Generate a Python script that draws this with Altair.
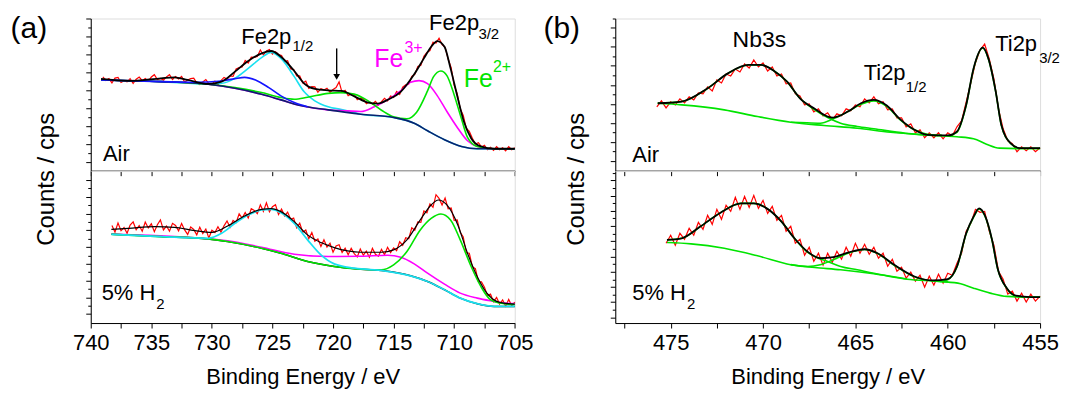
import json
import altair as alt
import pandas as pd

FONT = "Liberation Sans"
RED = "#ff0000"
BLACK = "#000000"
NAVY = "#0b1f6e"
BLUE = "#1414ff"
CYAN = "#19e0f0"
MAGENTA = "#ff00ff"
GREEN = "#00e400"

# ---------------- panel (a), Air ----------------
a1_black_E = [739.15, 736.9, 734.2, 733.1, 732.0, 730.3, 729.2, 728.1, 727.0, 725.9, 725.1, 724.3, 723.2, 722.4, 721.5, 720.4, 719.3, 718.2, 717.1, 716.3, 715.5, 714.4, 713.3, 712.5, 711.9, 711.4, 710.8, 710.3, 709.7, 709.2, 708.6, 707.8, 706.7, 705.0]
a1_black_I = [92, 90, 92.6, 93.6, 91, 87, 89.3, 99.3, 110, 117.6, 120, 114.3, 100, 87.6, 82, 80.6, 80, 74.3, 68.3, 67.3, 71, 79.3, 96.6, 112.6, 124.3, 130, 124.3, 102.6, 72.6, 49.3, 32.6, 24.3, 22, 22]
a1_bg_E = [739.15, 734.2, 730.3, 728.1, 725.9, 724.3, 722.7, 720.4, 717.7, 715.0, 713.3, 712.2, 710.8, 709.4, 708.1, 705.0]
a1_bg_I = [91, 89.3, 86.6, 82.6, 76.6, 71, 65.3, 61, 56.6, 53.3, 47.6, 40, 31, 24.3, 22, 22]
a1_fe2_E = [739.15, 734.2, 730.3, 728.1, 725.9, 724.3, 723.2, 722.1, 720.4, 719.3, 718.2, 717.1, 716.0, 715.0, 713.9, 713.1, 712.2, 711.7, 711.1, 710.6, 710.0, 709.4, 708.9, 708.1, 706.7, 705.0]
a1_fe2_I = [91, 89.3, 86.6, 83.3, 78.3, 73.3, 71.6, 73.6, 77.5, 78.3, 76.5, 70, 60.6, 54, 52, 58.6, 80, 94.3, 100, 95.3, 76, 52, 33.3, 24.3, 22, 22]
a1_fe3_E = [739.15, 734.2, 730.3, 728.1, 725.9, 724.3, 722.7, 720.4, 718.8, 717.7, 716.6, 715.5, 714.4, 713.6, 712.9, 712.2, 711.4, 710.6, 709.7, 708.9, 708.1, 706.7, 705.0]
a1_fe3_I = [91, 89.3, 86.6, 82.6, 76.6, 71, 65.3, 61, 60, 59.3, 64, 71, 80.3, 88.6, 90.3, 87.3, 75.3, 59.3, 42.6, 30, 24.3, 22, 22]
a1_cy_E = [739.15, 734.2, 730.3, 729.2, 728.1, 727.0, 725.9, 725.1, 724.3, 723.2, 722.4, 721.5, 720.4, 719.3, 717.7, 715.0, 713.3, 712.2, 710.8, 709.4, 708.1, 705.0]
a1_cy_I = [91, 89.3, 87, 87.6, 92.6, 102.6, 113.3, 118.6, 112.6, 94.3, 79.3, 70, 64, 61.3, 56.6, 53.3, 47.6, 40, 31, 24.3, 22, 22]
a1_bl_E = [739.15, 734.2, 731.4, 729.2, 728.1, 727.3, 726.4, 725.3, 724.3, 723.2, 722.1]
a1_bl_I = [91, 89.3, 88.6, 90, 92.3, 93.6, 91, 83.3, 75, 68.3, 64]
a1_red = [
    (739.0, 94), (738.75, 90.5), (738.5, 92.3), (738.25, 88), (738.0, 92.8), (737.75, 93.6), (737.5, 88.4), (737.25, 90.3),
    (737.0, 89.1), (736.75, 92.3), (736.5, 87.4), (736.25, 91.7), (736.0, 93.9), (735.75, 90.2), (735.5, 92.4), (735.25, 89.7),
    (735.0, 93.9), (734.75, 96.2), (734.5, 91.4), (734.25, 92.6), (734.0, 90.8), (733.75, 94.1), (733.5, 96.3), (733.25, 91.4),
    (733.0, 94.5), (732.75, 92), (732.5, 94.5), (732.25, 88.8), (732.0, 91), (731.75, 92.4), (731.5, 92.8), (731.25, 88.2),
    (731.0, 86.5), (730.75, 89), (730.5, 91.4), (730.25, 87.4), (730.0, 86.4), (729.75, 89.8), (729.5, 86.2), (729.25, 90.4),
    (729.0, 93.5), (728.75, 91.8), (728.5, 95), (728.25, 94.5), (728.0, 102), (727.75, 103.5), (727.5, 104), (727.25, 110.5),
    (727.0, 108), (726.75, 113.9), (726.5, 113.7), (726.25, 114.4), (726.0, 121), (725.75, 116), (725.5, 120), (725.25, 121.4),
    (725.0, 116.8), (724.75, 119.2), (724.5, 116.5), (724.25, 115.5), (724.0, 109.5), (723.75, 110.3), (723.5, 102), (723.25, 101.5),
    (723.0, 95), (722.75, 95), (722.5, 88), (722.25, 89.8), (722.0, 82.5), (721.75, 84.3), (721.5, 84), (721.25, 78.6),
    (721.0, 82.2), (720.75, 81), (720.5, 82.7), (720.25, 78.6), (720.0, 81.4), (719.75, 83.3), (719.5, 89), (719.25, 78.3),
    (719.0, 80.5), (718.75, 75.3), (718.5, 77), (718.25, 76.6), (718.0, 71.2), (717.75, 72.8), (717.5, 72.3), (717.25, 67.3),
    (717.0, 69.2), (716.75, 66.8), (716.5, 69.4), (716.25, 65.8), (716.0, 69.2), (715.75, 72.6), (715.5, 70), (715.25, 74.8),
    (715.0, 73.5), (714.75, 79.5), (714.5, 76.5), (714.25, 83.8), (714.0, 86), (713.75, 86.8), (713.5, 94.5), (713.25, 96.6),
    (713.0, 104.6), (712.75, 105.6), (712.5, 114.6), (712.25, 118.6), (712.0, 120.5), (711.75, 128.8), (711.5, 128), (711.25, 132.8),
    (711.0, 126.5), (710.75, 123.8), (710.5, 112), (710.25, 103.3), (710.0, 85.6), (709.75, 77.3), (709.5, 62), (709.25, 55.3),
    (709.0, 42.5), (708.75, 39.5), (708.5, 32.5), (708.25, 26.8), (708.0, 28), (707.75, 23.8), (707.5, 25.5), (707.25, 21),
    (707.0, 23.5), (706.75, 20.3), (706.5, 24), (706.25, 21), (706.0, 23), (705.75, 20), (705.5, 24), (705.25, 21), (705.0, 23)]

# ---------------- panel (a), 5% H2 ----------------
a2_black_E = [738.3, 736.9, 734.7, 733.1, 731.4, 730.0, 728.7, 727.3, 725.9, 725.1, 724.3, 723.2, 722.1, 721.0, 719.9, 718.8, 717.7, 716.0, 715.0, 713.9, 712.8, 711.9, 711.3, 710.6, 709.7, 708.9, 708.1, 707.3, 706.5, 705.9, 705.0]
a2_black_I = [94, 95, 96.7, 96, 92.7, 91, 97.4, 107.4, 114, 114.7, 111.7, 101.7, 88.4, 80.7, 75.7, 72.4, 71, 71, 73.4, 83.4, 103.4, 118.4, 123.4, 118.4, 98.4, 70, 46.7, 30, 21.7, 20, 19]
a2_bg_E = [738.3, 734.2, 730.3, 728.7, 725.9, 724.3, 722.1, 719.9, 717.7, 715.8, 713.6, 712.2, 710.8, 709.5, 708.1, 706.7, 705.0]
a2_bg_I = [89, 86.7, 84.4, 81.7, 75, 70, 61.7, 56.7, 54, 52.4, 47.4, 41.7, 33.4, 25, 19.4, 16.7, 16.7]
a2_cy_E = [738.3, 734.2, 730.3, 729.2, 728.1, 727.0, 725.9, 725.1, 724.3, 723.2, 722.1, 721.0, 719.9, 718.2, 715.8, 713.6, 712.2, 710.8, 709.5, 708.1, 706.7, 705.0]
a2_cy_I = [89, 86.7, 85, 90, 100, 108.4, 113.4, 114, 110.7, 100, 83.4, 68.4, 59.4, 55, 52.4, 47.4, 41.7, 33.4, 25, 19.4, 16.7, 16.7]
a2_fe3_E = [738.3, 731.4, 728.7, 725.9, 723.2, 720.4, 717.7, 715.5, 714.4, 713.3, 712.2, 710.8, 709.5, 708.1, 706.7, 705.9, 705.0]
a2_fe3_I = [89, 85.5, 82.5, 76, 69, 66.7, 67, 68, 66, 59.4, 50, 39, 30, 25, 21.7, 20, 19.5]
a2_fe2_E = [738.3, 734.2, 730.3, 728.7, 725.9, 724.3, 722.1, 719.9, 717.7, 716.0, 715.0, 713.9, 712.8, 711.9, 711.1, 710.3, 709.5, 708.6, 707.8, 707.0, 705.9, 705.0]
a2_fe2_I = [89, 86.7, 84.4, 81.7, 75, 70, 61.7, 56.7, 54, 53.4, 58.4, 71.7, 93.4, 105, 109.4, 103.4, 83.4, 56.7, 36.7, 23.4, 19.4, 18.5]
a2_red = [
    (738.25, 97.7), (738.0, 91.2), (737.75, 100.4), (737.5, 92.6), (737.25, 95.8), (737.0, 90), (736.75, 98.2), (736.5, 101.4),
    (736.25, 93.6), (736.0, 97.8), (735.75, 92), (735.5, 101.2), (735.25, 95.4), (735.0, 99.5), (734.75, 91.6), (734.5, 98.6),
    (734.25, 103.5), (734.0, 93.4), (733.75, 97.3), (733.5, 92.2), (733.25, 100), (733.0, 97.8), (732.75, 92.4), (732.5, 99.9),
    (732.25, 93.4), (732.0, 88.9), (731.75, 96.4), (731.5, 93.9), (731.25, 88.5), (731.0, 96), (730.75, 89.7), (730.5, 94.3),
    (730.25, 85.2), (730.0, 93), (729.75, 90.8), (729.5, 96.5), (729.25, 91), (729.0, 97.5), (728.75, 102.3), (728.5, 96),
    (728.25, 102.9), (728.0, 100.7), (727.75, 109.5), (727.5, 105.3), (727.25, 110.8), (727.0, 105.3), (726.75, 114.6), (726.5, 112.8),
    (726.25, 109.7), (726.0, 118.6), (725.75, 112), (725.5, 120.5), (725.25, 111.6), (725.0, 116.6), (724.75, 118.7), (724.5, 108.8),
    (724.25, 114.2), (724.0, 107.5), (723.75, 111.3), (723.5, 104), (723.25, 105.3), (723.0, 95.5), (722.75, 100.3), (722.5, 91),
    (722.25, 93.3), (722.0, 84.5), (721.75, 90.8), (721.5, 82), (721.25, 84.4), (721.0, 76.7), (720.75, 83.5), (720.5, 76.2),
    (720.25, 80.1), (720.0, 71), (719.75, 77.3), (719.5, 78.5), (719.25, 70.8), (719.0, 75), (718.75, 68.5), (718.5, 75),
    (718.25, 69.7), (718.0, 66.3), (717.75, 74.2), (717.5, 68), (717.25, 72), (717.0, 66), (716.75, 75), (716.5, 69),
    (716.25, 67), (716.0, 74), (715.75, 68.5), (715.5, 76), (715.25, 70.7), (715.0, 75.4), (714.75, 72.5), (714.5, 81.5),
    (714.25, 78), (714.0, 85.5), (713.75, 84.5), (713.5, 95.5), (713.25, 93), (713.0, 101.5), (712.75, 101), (712.5, 112.5),
    (712.25, 110.5), (712.0, 119.5), (711.75, 116.1), (711.5, 128.7), (711.25, 125), (711.0, 118.3), (710.75, 125.4), (710.5, 114.5),
    (710.25, 115.3), (710.0, 103), (709.75, 103.5), (709.5, 91), (709.25, 86.3), (709.0, 70.5), (708.75, 70), (708.5, 56.5),
    (708.25, 54.5), (708.0, 41.5), (707.75, 41.3), (707.5, 36), (707.25, 27.5), (707.0, 29), (706.75, 21.4), (706.5, 25.7),
    (706.25, 19), (706.0, 23.2), (705.75, 16.9), (705.5, 23.6), (705.25, 17.3), (705.0, 21)]

# ---------------- panel (b), Air ----------------
b1_black_E = [475.7, 474.4, 473.0, 471.9, 470.8, 470.1, 469.4, 468.7, 468.0, 467.2, 466.5, 466.2, 465.4, 464.7, 464.0, 463.3, 462.6, 461.8, 461.1, 460.0, 459.5, 459.0, 458.6, 458.1, 457.8, 457.4, 457.1, 456.6, 456.1, 455.5, 455.0]
b1_black_I = [67.6, 69.3, 82.6, 97.6, 106, 106, 100, 89.3, 72.6, 62, 54.3, 53.3, 59.3, 67.6, 71, 65.3, 52, 41, 36, 35.3, 39.3, 66, 102.6, 123.3, 112.6, 79.3, 46, 27.6, 22.6, 22.6, 22.6]
b1_bg_E = [475.7, 474.4, 472.1, 470.3, 468.5, 466.7, 464.9, 463.1, 461.3, 459.5, 458.6, 457.9, 457.2, 455.5, 455.0]
b1_bg_I = [67.6, 66, 61, 54.3, 48.6, 45.3, 42.6, 38.6, 36, 34, 32, 26.6, 22.6, 22, 22]
b1_nb_E = [475.7, 474.4, 473.0, 471.9, 470.8, 470.1, 469.4, 468.7, 468.0, 467.2, 466.5, 465.8, 464.9, 464.0, 462.3, 460.5]
b1_nb_I = [67.6, 69.3, 82.6, 97.6, 106, 106, 100, 89.3, 72.6, 61, 53.3, 47.6, 44.3, 42, 37.6, 35]
b1_ti1_E = [468.5, 468.0, 466.9, 466.2, 465.4, 464.7, 464.0, 463.3, 462.6, 461.8, 461.1, 460.3]
b1_ti1_I = [48.6, 48.3, 47.6, 52, 59.3, 66.5, 70, 64.5, 51.5, 41, 36.5, 35.4]
b1_ti3_E = [460.5, 460.0, 459.5, 459.0, 458.6, 458.1, 457.8, 457.4, 457.1, 456.6, 456.1, 455.5, 455.0]
b1_ti3_I = [35.2, 35, 38.5, 65.5, 102.3, 123, 112.3, 79, 45.7, 27.4, 22.5, 22.5, 22.5]
b1_red = [(475.75, 64), (475.5, 70), (475.25, 63), (475.0, 69), (474.75, 66), (474.5, 72), (474.25, 68), (474.0, 74), (473.75, 71), (473.5, 78), (473.25, 77), (473.0, 84), (472.75, 80), (472.5, 91), (472.25, 88), (472.0, 97), (471.75, 95), (471.5, 102), (471.25, 99), (471.0, 107), (470.75, 103), (470.5, 111), (470.25, 104), (470.0, 108), (469.75, 100), (469.5, 104), (469.25, 95), (469.0, 97), (468.75, 87), (468.5, 88), (468.25, 77), (468.0, 75), (467.75, 66), (467.5, 67), (467.25, 59), (467.0, 62), (466.75, 55), (466.5, 58), (466.25, 51), (466.0, 57), (465.75, 55), (465.5, 62), (465.25, 60), (465.0, 66), (464.75, 64), (464.5, 72), (464.25, 68), (464.0, 74), (463.75, 67), (463.5, 69), (463.25, 61), (463.0, 62), (462.75, 53), (462.5, 53), (462.25, 44), (462.0, 47), (461.75, 38), (461.5, 41), (461.25, 33), (461.0, 38), (460.75, 33), (460.5, 38), (460.25, 32), (460.0, 38), (459.75, 35), (459.5, 44), (459.25, 50), (459.0, 69), (458.75, 88), (458.5, 108), (458.25, 121), (458.0, 127), (457.75, 112), (457.5, 92), (457.25, 62), (457.0, 42), (456.75, 30), (456.5, 27), (456.25, 19), (456.0, 24), (455.75, 20), (455.5, 24), (455.25, 19), (455.0, 23)]

# ---------------- panel (b), 5% H2 ----------------
b2_black_E = [475.2, 474.4, 473.4, 472.3, 471.2, 470.5, 469.8, 469.0, 468.3, 467.6, 466.9, 466.2, 465.4, 464.5, 463.8, 462.9, 461.8, 460.8, 460.0, 459.5, 459.0, 458.6, 458.3, 458.0, 457.6, 457.3, 456.8, 456.3, 455.5, 455.0]
b2_black_I = [83.4, 85, 96.7, 110.7, 120, 120, 115, 101.7, 85, 71.7, 65, 66, 70.7, 74, 70, 58.4, 46.7, 42.7, 44, 56.7, 90, 106.7, 115, 108.4, 83.4, 55, 35, 27.4, 26, 26]
b2_bg_E = [475.2, 473.9, 472.1, 470.3, 468.5, 467.2, 465.8, 464.0, 462.2, 460.4, 459.3, 458.6, 457.7, 456.8, 455.5, 455.0]
b2_bg_I = [80.7, 79.4, 75, 67.4, 58.4, 55.7, 53.4, 49.4, 44, 41.7, 39.4, 35, 30, 26.7, 26, 26]
b2_nb_E = [475.2, 474.4, 473.4, 472.3, 471.2, 470.5, 469.8, 469.0, 468.3, 467.6, 467.2, 466.5, 465.8, 464.9, 464.0, 462.2]
b2_nb_I = [83.4, 85, 96.7, 110.7, 120, 120, 115, 101.7, 85, 71.2, 66.7, 61.7, 56.7, 53.4, 50, 44.2]
b2_ti1_E = [468.5, 467.6, 466.9, 466.2, 465.4, 464.5, 463.8, 462.9, 461.8, 460.8, 460.0]
b2_ti1_I = [58.6, 56.7, 58.4, 63.4, 70, 73.8, 69.7, 58, 46.3, 42.2, 41.3]
b2_ti3_E = [460.4, 460.0, 459.5, 459.0, 458.6, 458.3, 458.0, 457.6, 457.3, 456.8, 456.3, 455.5, 455.0]
b2_ti3_I = [41.7, 43.5, 56.2, 89.5, 106.2, 114.5, 108, 83, 54.6, 34.7, 27.2, 26, 26]
b2_red = [(475.25, 80), (475.0, 88), (474.75, 78), (474.5, 90), (474.25, 84), (474.0, 95), (473.75, 88), (473.5, 101), (473.25, 94), (473.0, 108), (472.75, 99), (472.5, 114), (472.25, 104), (472.0, 118), (471.75, 112), (471.5, 126), (471.25, 114), (471.0, 127), (470.75, 116), (470.5, 128), (470.25, 115), (470.0, 123), (469.75, 110), (469.5, 117), (469.25, 103), (469.0, 108), (468.75, 92), (468.5, 97), (468.25, 80), (468.0, 84), (467.75, 68), (467.5, 76), (467.25, 62), (467.0, 70), (466.75, 58), (466.5, 70), (466.25, 61), (466.0, 72), (465.75, 64), (465.5, 76), (465.25, 67), (465.0, 80), (464.75, 70), (464.5, 79), (464.25, 69), (464.0, 76), (463.75, 65), (463.5, 70), (463.25, 57), (463.0, 64), (462.75, 52), (462.5, 56), (462.25, 45), (462.0, 51), (461.75, 42), (461.5, 48), (461.25, 36), (461.0, 47), (460.75, 38), (460.5, 49), (460.25, 40), (460.0, 50), (459.75, 48), (459.5, 60), (459.25, 70), (459.0, 92), (458.75, 100), (458.5, 114), (458.25, 111), (458.0, 112), (457.75, 92), (457.5, 78), (457.25, 52), (457.0, 44), (456.75, 29), (456.5, 32), (456.25, 22), (456.0, 30), (455.75, 21), (455.5, 29), (455.25, 22), (455.0, 27)]

# axis tick positions
xa_ticks = [740, 737.5, 735, 732.5, 730, 727.5, 725, 722.5, 720, 717.5, 715, 712.5, 710, 707.5, 705]
xb_ticks = [477.5, 475, 472.5, 470, 467.5, 465, 462.5, 460, 457.5, 455]

# ---------------- geometry ----------------
WA, WB = 425.2, 426.0
HT, HB = 152.6, 152.4
TICK_FS = 22


def ticks_from(start, step, n):
    return [round(start - step * k, 3) for k in range(n)]


ya1_major = ticks_from(152.6, 17.95, 9)
ya1_minor = ticks_from(143.6, 17.95, 8)
ya2_major = ticks_from(143.4, 16.8, 9)
ya2_minor = ticks_from(135.0, 16.8, 8)
yb1_major = ticks_from(143.3, 19.07, 8)
yb1_minor = [152.6] + ticks_from(133.77, 19.07, 7)
yb2_major = ticks_from(143.0, 15.25, 10)
yb2_minor = [150.6] + ticks_from(135.4, 15.25, 9)


def make_x(dom, ticks, show):
    kw = dict(values=ticks, grid=False, domainColor="black", domainWidth=1,
              tickColor="black", tickWidth=1, tickSize=5)
    if show:
        kw.update(labels=True, labelExpr="datum.value % 5 == 0 ? datum.label : ''",
                  labelFlush=False, labelOverlap=False, labelFont=FONT, labelFontSize=TICK_FS,
                  labelColor="black", labelPadding=5, title="Binding Energy / eV",
                  titleFont=FONT, titleFontSize=TICK_FS, titleFontWeight="normal",
                  titleColor="black", titlePadding=13)
    else:
        kw.update(labels=False, title=None)
    return alt.X("E:Q", scale=alt.Scale(domain=dom, nice=False, zero=False), axis=alt.Axis(**kw))


def make_y(H, majors, minors):
    test = "indexof(" + json.dumps(majors) + ", datum.value) >= 0"
    axis = alt.Axis(values=sorted(majors + minors), labels=False, title=None, grid=False,
                    domainColor="black", domainWidth=1, tickColor="black", tickWidth=1,
                    tickSize={"condition": {"test": test, "value": 5}, "value": 3})
    return alt.Y("I:Q", scale=alt.Scale(domain=[0, H], nice=False, zero=False), axis=axis)


def curve(X, Y, E, I, color, w, interp="monotone"):
    df = pd.DataFrame({"E": E, "I": I})
    return alt.Chart(df).mark_line(color=color, strokeWidth=w, interpolate=interp).encode(x=X, y=Y)


def red(X, Y, pairs):
    df = pd.DataFrame(pairs, columns=["E", "I"])
    return alt.Chart(df).mark_line(color=RED, strokeWidth=1.2, interpolate="linear").encode(x=X, y=Y)


def label(X, Y, E, I, txt, size, color=BLACK, align="left"):
    df = pd.DataFrame({"E": [E], "I": [I], "t": [txt]})
    return alt.Chart(df).mark_text(align=align, baseline="alphabetic", fontSize=size,
                                   font=FONT, color=color).encode(x=X, y=Y, text="t:N")


def fixed_text(txt, x, y, size, angle=0, align="left", baseline="alphabetic"):
    df = pd.DataFrame({"t": [txt]})
    kw = dict(align=align, baseline=baseline, fontSize=size, font=FONT, color=BLACK)
    if angle:
        kw["angle"] = angle
    return alt.Chart(df).mark_text(**kw).encode(x=alt.value(x), y=alt.value(y), text="t:N")


# ---- (a) top ----
X = make_x([740, 705], xa_ticks, False)
Y = make_y(HT, ya1_major, ya1_minor)
arrow_df = pd.DataFrame({"E": [719.7], "I": [122.6], "I2": [96.0]})
a_top = alt.layer(
    red(X, Y, a1_red),
    curve(X, Y, a1_cy_E, a1_cy_I, CYAN, 1.6),
    curve(X, Y, a1_fe3_E, a1_fe3_I, MAGENTA, 1.6),
    curve(X, Y, a1_fe2_E, a1_fe2_I, GREEN, 1.6),
    curve(X, Y, a1_bg_E, a1_bg_I, NAVY, 1.6),
    curve(X, Y, a1_bl_E, a1_bl_I, BLUE, 1.6),
    curve(X, Y, a1_black_E, a1_black_I, BLACK, 1.8),
    alt.Chart(arrow_df).mark_rule(color=BLACK, strokeWidth=1.4).encode(x=X, y=Y, y2=alt.Y2("I2")),
    alt.Chart(pd.DataFrame({"E": [719.7], "I": [94.0]})).mark_point(
        shape="triangle-down", filled=True, color=BLACK, opacity=1, size=45).encode(x=X, y=Y),
    label(X, Y, 727.57, 127.3, "Fe2p", 22),
    label(X, Y, 723.35, 119.8, "1/2", 15),
    label(X, Y, 712.07, 141.3, "Fe2p", 22),
    label(X, Y, 708.0, 131.8, "3/2", 15),
    label(X, Y, 716.6, 104.3, "Fe", 25, MAGENTA),
    label(X, Y, 714.1, 117.6, "3+", 16, MAGENTA),
    label(X, Y, 709.2, 84.3, "Fe", 25, GREEN),
    label(X, Y, 706.8, 99.3, "2+", 16, GREEN),
    label(X, Y, 738.99, 9.3, "Air", 22),
    fixed_text("(a)", -80.4, 19.3, 30),
    fixed_text("Counts / cps", -44, 161.3, 24, angle=270, align="center", baseline="middle"),
).properties(width=WA, height=HT)

# ---- (a) bottom ----
X = make_x([740, 705], xa_ticks, True)
Y = make_y(HB, ya2_major, ya2_minor)
a_bot = alt.layer(
    red(X, Y, a2_red),
    curve(X, Y, a2_bg_E, a2_bg_I, BLACK, 1.5),
    curve(X, Y, a2_fe3_E, a2_fe3_I, MAGENTA, 1.6),
    curve(X, Y, a2_fe2_E, a2_fe2_I, GREEN, 1.6),
    curve(X, Y, a2_cy_E, a2_cy_I, CYAN, 1.8),
    curve(X, Y, a2_black_E, a2_black_I, BLACK, 1.2),
    label(X, Y, 739.1, 23.4, "5% H", 22),
    label(X, Y, 734.6, 13.7, "2", 15),
).properties(width=WA, height=HB)

# ---- (b) top ----
X = make_x([478, 455], xb_ticks, False)
Y = make_y(HT, yb1_major, yb1_minor)
b_top = alt.layer(
    red(X, Y, b1_red),
    curve(X, Y, b1_bg_E, b1_bg_I, GREEN, 1.6),
    curve(X, Y, b1_nb_E, b1_nb_I, GREEN, 1.6),
    curve(X, Y, b1_ti1_E, b1_ti1_I, GREEN, 1.6),
    curve(X, Y, b1_ti3_E, b1_ti3_I, GREEN, 1.6),
    curve(X, Y, b1_black_E, b1_black_I, BLACK, 1.8),
    label(X, Y, 470.2, 124.3, "Nb3s", 23, align="center"),
    label(X, Y, 464.55, 91.0, "Ti2p", 22),
    label(X, Y, 462.27, 79.3, "1/2", 15),
    label(X, Y, 457.43, 120.0, "Ti2p", 22),
    label(X, Y, 455.05, 107.5, "3/2", 15),
    label(X, Y, 477.08, 8.6, "Air", 22),
    fixed_text("(b)", -72, 19.3, 30),
    fixed_text("Counts / cps", -38.5, 161.3, 24, angle=270, align="center", baseline="middle"),
).properties(width=WB, height=HT)

# ---- (b) bottom ----
X = make_x([478, 455], xb_ticks, True)
Y = make_y(HB, yb2_major, yb2_minor)
b_bot = alt.layer(
    red(X, Y, b2_red),
    curve(X, Y, b2_bg_E, b2_bg_I, GREEN, 1.6),
    curve(X, Y, b2_nb_E, b2_nb_I, GREEN, 1.6),
    curve(X, Y, b2_ti1_E, b2_ti1_I, GREEN, 1.6),
    curve(X, Y, b2_ti3_E, b2_ti3_I, GREEN, 1.6),
    curve(X, Y, b2_black_E, b2_black_I, BLACK, 1.8),
    label(X, Y, 477.08, 23.4, "5% H", 22),
    label(X, Y, 474.11, 13.7, "2", 15),
).properties(width=WB, height=HB)

col_a = alt.vconcat(a_top, a_bot, spacing=0, bounds="flush")
col_b = alt.vconcat(b_top, b_bot, spacing=0, bounds="flush")
chart = alt.hconcat(col_a, col_b, spacing=8).properties(
    padding={"left": 10, "top": 10, "right": 5, "bottom": 5},
    background="white",
).configure_view(stroke=None).configure(font=FONT)

chart.save("out.html", embed_options={"renderer": "svg", "actions": False})
